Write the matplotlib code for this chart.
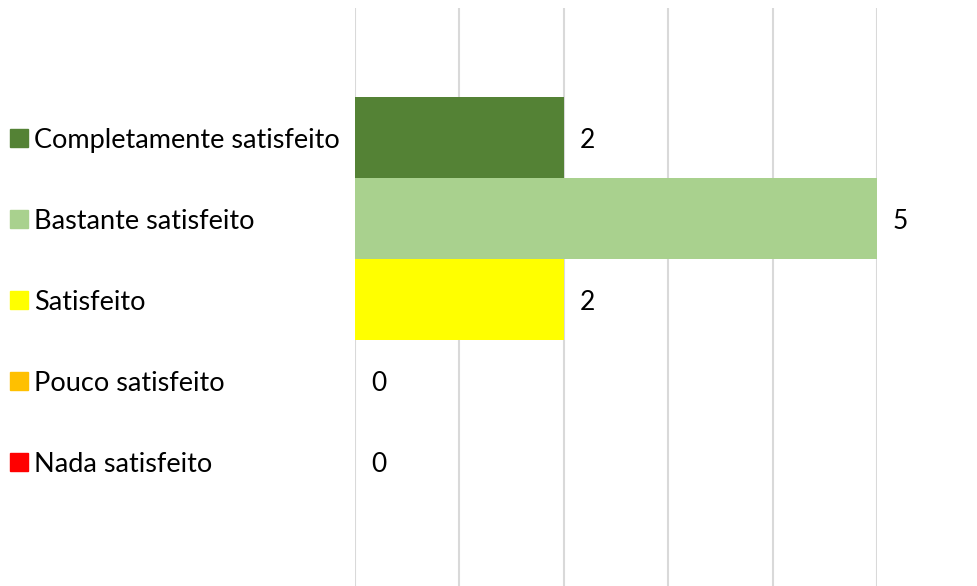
import numpy as np
import matplotlib
matplotlib.use("Agg")
from matplotlib import pyplot as plt
from matplotlib import transforms

categories = ["Completamente satisfeito", "Bastante satisfeito", "Satisfeito",
              "Pouco satisfeito", "Nada satisfeito"]
values = [2, 5, 2, 0, 0]
colors = ["#548235", "#A9D18E", "#FFFF00", "#FFC000", "#FF0000"]

plt.rcParams['font.family'] = ['Lato', 'DejaVu Sans']

fig = plt.figure(figsize=(9.77, 5.86), dpi=100)
ax = fig.add_axes([355/977, 0, (877-355)/977, (586-8)/586])

y = np.arange(len(categories))
ax.barh(y, values, height=1.0, color=colors, zorder=2)

ax.set_xlim(0, 5)
ax.set_ylim(5.537, -1.599)
ax.set_xticks(range(6))
ax.grid(axis='x', color='#D9D9D9', lw=1.5, zorder=0)
ax.set_yticks([])
ax.tick_params(axis='x', length=0, labelbottom=False)
for s in ax.spines.values():
    s.set_visible(False)

# value labels
for yi, v in zip(y, values):
    ax.annotate(str(v), (v, yi), xytext=(11.5, 0), textcoords='offset points',
                ha='left', va='center_baseline', fontsize=19, color='#000000')

# legend-like labels on the left
tr = transforms.blended_transform_factory(fig.transFigure, ax.transData)
for yi, c, lab in zip(y, colors, categories):
    ax.plot([18.5/977], [yi], marker='s', ms=12.5, color=c, transform=tr, clip_on=False)
    ax.text(34/977, yi, lab, transform=tr, ha='left', va='center_baseline', fontsize=19.5)

plt.savefig("out.png", dpi=100)
